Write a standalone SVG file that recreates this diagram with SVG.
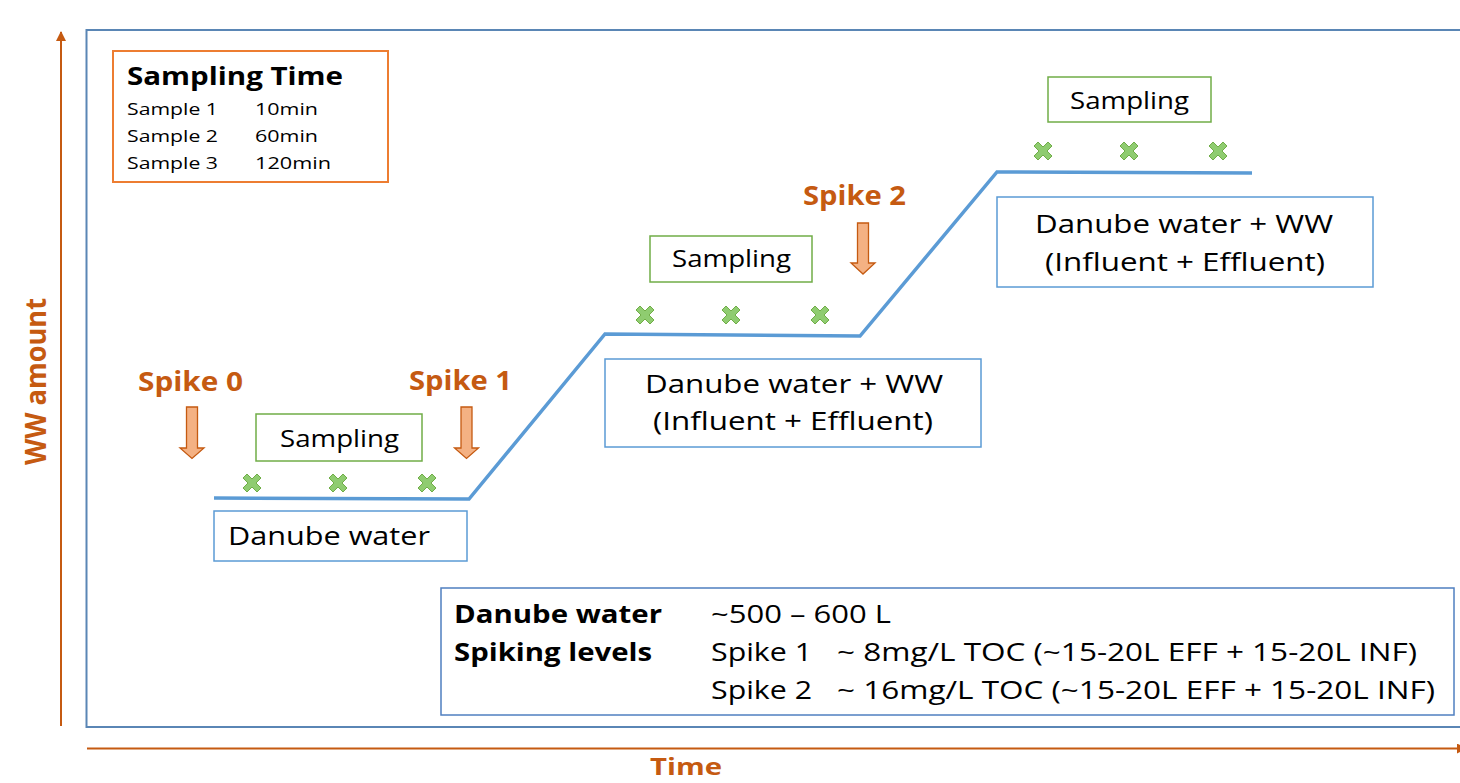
<svg xmlns="http://www.w3.org/2000/svg" width="1460" height="783" viewBox="0 0 1460 783">
<style>
text{font-family:"Open Sans","Liberation Sans",sans-serif;fill:#000}
.b{font-weight:bold}
.or{fill:#c55a11;font-weight:bold}
.blue{fill:#fff;stroke:#5b9bd5;stroke-width:1.5}
.green{fill:#fff;stroke:#70ad47;stroke-width:1.5}
.arrow{fill:#f4b183;stroke:#c55a11;stroke-width:1.3}
.x{fill:#8fcc70;stroke:#70ad47;stroke-width:1}
</style>
<defs>
<marker id="ah" viewBox="0 0 10 10" refX="9" refY="5" markerWidth="5" markerHeight="5" orient="auto" markerUnits="strokeWidth">
<path d="M0,0 L10,5 L0,10 z" fill="#c55a11"/>
</marker>
<polygon id="cross" points="-9,-5 -5,-9 0,-4 5,-9 9,-5 4,0 9,5 5,9 0,4 -5,9 -9,5 -4,0"/>
</defs>
<rect width="1460" height="783" fill="#fff"/>
<g id="frame">
<rect x="86.5" y="30" width="1400" height="697" fill="none" stroke="#5a86b5" stroke-width="2"/>
</g>
<g id="axes">
<line x1="61" y1="726" x2="61" y2="32" stroke="#c55a11" stroke-width="2" marker-end="url(#ah)"/>
<line x1="87" y1="748.5" x2="1466" y2="748.5" stroke="#c55a11" stroke-width="2" marker-end="url(#ah)"/>
<text class="or" x="0" y="0" font-size="28" transform="translate(46,465) rotate(-90)" textLength="167" lengthAdjust="spacingAndGlyphs">WW amount</text>
<text class="or" x="650" y="775" font-size="23" textLength="72" lengthAdjust="spacingAndGlyphs">Time</text>
</g>
<g id="sampling-time">
<rect x="113" y="51" width="275" height="131" fill="#fff" stroke="#ed7d31" stroke-width="2"/>
<text class="b" x="127" y="85" font-size="25" textLength="216" lengthAdjust="spacingAndGlyphs">Sampling Time</text>
<text x="127" y="115" font-size="17" textLength="91" lengthAdjust="spacingAndGlyphs">Sample 1</text>
<text x="255" y="115" font-size="17" textLength="63" lengthAdjust="spacingAndGlyphs">10min</text>
<text x="127" y="142" font-size="17" textLength="91" lengthAdjust="spacingAndGlyphs">Sample 2</text>
<text x="255" y="142" font-size="17" textLength="63" lengthAdjust="spacingAndGlyphs">60min</text>
<text x="127" y="169" font-size="17" textLength="91" lengthAdjust="spacingAndGlyphs">Sample 3</text>
<text x="255" y="169" font-size="17" textLength="76" lengthAdjust="spacingAndGlyphs">120min</text>
</g>
<g id="connectors">
<polyline points="214,498 469,499 605,334 860,336 997,172 1252,173" fill="none" stroke="#5b9bd5" stroke-width="3.5"/>
</g>
<g id="spike0">
<text class="or" x="138" y="391" font-size="26" textLength="105" lengthAdjust="spacingAndGlyphs">Spike 0</text>
<path class="arrow" d="M186.5,407 h11 v41 h6.5 l-12,10.5 l-12,-10.5 h6.5 z"/>
</g>
<g id="spike1">
<text class="or" x="409" y="390" font-size="26" textLength="103" lengthAdjust="spacingAndGlyphs">Spike 1</text>
<path class="arrow" d="M461,407 h11 v41 h6.5 l-12,10.5 l-12,-10.5 h6.5 z"/>
</g>
<g id="spike2">
<text class="or" x="803" y="205" font-size="26" textLength="103" lengthAdjust="spacingAndGlyphs">Spike 2</text>
<path class="arrow" d="M857.5,223 h11 v40 h6.5 l-12,11 l-12,-11 h6.5 z"/>
</g>
<g id="stage1">
<rect class="green" x="256" y="414" width="166" height="47"/>
<text x="280" y="447" font-size="24" textLength="119" lengthAdjust="spacingAndGlyphs">Sampling</text>
<use href="#cross" class="x" x="252" y="483"/>
<use href="#cross" class="x" x="338" y="483"/>
<use href="#cross" class="x" x="427" y="483"/>
<rect class="blue" x="214" y="511" width="253" height="50"/>
<text x="228" y="545" font-size="26" textLength="202" lengthAdjust="spacingAndGlyphs">Danube water</text>
</g>
<g id="stage2">
<rect class="green" x="650" y="236" width="162" height="46"/>
<text x="672" y="267" font-size="24" textLength="119" lengthAdjust="spacingAndGlyphs">Sampling</text>
<use href="#cross" class="x" x="645" y="315"/>
<use href="#cross" class="x" x="731" y="315"/>
<use href="#cross" class="x" x="820" y="315"/>
<rect class="blue" x="605" y="359" width="376" height="88"/>
<text x="645" y="393" font-size="26" textLength="298" lengthAdjust="spacingAndGlyphs">Danube water + WW</text>
<text x="653" y="430" font-size="26" textLength="280" lengthAdjust="spacingAndGlyphs">(Influent + Effluent)</text>
</g>
<g id="stage3">
<rect class="green" x="1048" y="77" width="163" height="45"/>
<text x="1070" y="109" font-size="24" textLength="119" lengthAdjust="spacingAndGlyphs">Sampling</text>
<use href="#cross" class="x" x="1043" y="151"/>
<use href="#cross" class="x" x="1129" y="151"/>
<use href="#cross" class="x" x="1218" y="151"/>
<rect class="blue" x="997" y="197" width="376" height="90"/>
<text x="1035" y="233" font-size="26" textLength="298" lengthAdjust="spacingAndGlyphs">Danube water + WW</text>
<text x="1045" y="271" font-size="26" textLength="280" lengthAdjust="spacingAndGlyphs">(Influent + Effluent)</text>
</g>
<g id="legend">
<rect x="441" y="588" width="1013" height="127" fill="#fff" stroke="#4f7fc0" stroke-width="1.5"/>
<text class="b" x="454" y="623" font-size="25" textLength="208" lengthAdjust="spacingAndGlyphs">Danube water</text>
<text x="711" y="623" font-size="25" textLength="180" lengthAdjust="spacingAndGlyphs">~500 – 600 L</text>
<text class="b" x="454" y="661" font-size="25" textLength="198" lengthAdjust="spacingAndGlyphs">Spiking levels</text>
<text x="711" y="661" font-size="25" textLength="101" lengthAdjust="spacingAndGlyphs">Spike 1</text>
<text x="837" y="661" font-size="25" textLength="580" lengthAdjust="spacingAndGlyphs">~ 8mg/L TOC (~15-20L EFF + 15-20L INF)</text>
<text x="711" y="699" font-size="25" textLength="101" lengthAdjust="spacingAndGlyphs">Spike 2</text>
<text x="837" y="699" font-size="25" textLength="598" lengthAdjust="spacingAndGlyphs">~ 16mg/L TOC (~15-20L EFF + 15-20L INF)</text>
</g>
</svg>
